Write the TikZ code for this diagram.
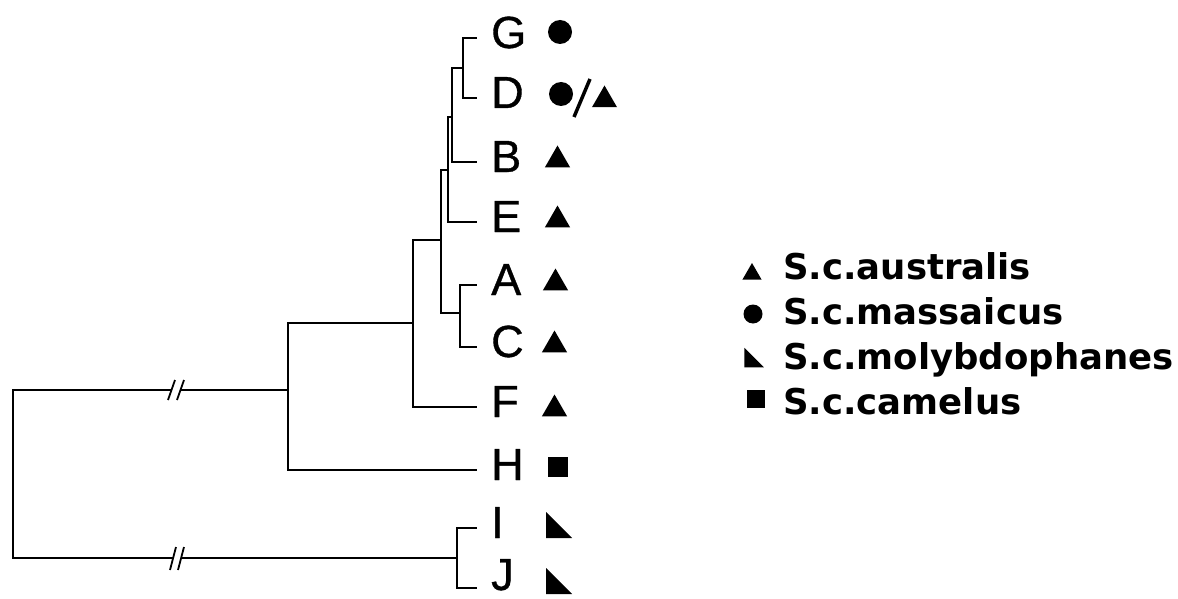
\documentclass[tikz,border=0pt]{standalone}
\usepackage{fontspec}
\setmainfont{Liberation Sans}
\newfontfamily\labfont[FakeBold=0.8]{Liberation Sans}
\newfontfamily\legfont{DejaVu Sans}
\usetikzlibrary{shapes.geometric}
\begin{document}
\begin{tikzpicture}[x=1pt,y=-1pt,
  branch/.style={line width=1.7pt},
  brk/.style={line width=1.8pt},
  leaf/.style={anchor=base west, inner sep=0pt, text depth=0pt, font=\labfont\fontsize{45}{45}\selectfont},
  tri/.style={regular polygon, regular polygon sides=3, fill=black, inner sep=0pt, minimum size=29pt},
  dot/.style={circle, fill=black, inner sep=0pt, minimum size=24pt},
  sq/.style={rectangle, fill=black, inner sep=0pt, minimum size=20pt},
  legtext/.style={anchor=base west, inner sep=0pt, font=\legfont\bfseries\fontsize{35.5}{35.5}\selectfont},
  halftri/.pic={\fill (-13,-13) -- (-13,13) -- (13,13) -- cycle;}
]
\useasboundingbox (0,0) rectangle (1178,599);

% leaf tips
\coordinate (tG) at (477,38);
\coordinate (tD) at (477,98);
\coordinate (tB) at (477,162);
\coordinate (tE) at (477,222);
\coordinate (tA) at (477,285);
\coordinate (tC) at (477,347);
\coordinate (tF) at (477,407);
\coordinate (tH) at (477,470);
\coordinate (tI) at (477,528);
\coordinate (tJ) at (477,588);

% internal nodes
\coordinate (nGD) at (463,68);
\coordinate (nGDB) at (452,117);
\coordinate (nGDBE) at (448,170);
\coordinate (nAC) at (460,313);
\coordinate (nX) at (441,240);
\coordinate (nXF) at (413,323);
\coordinate (nXH) at (288,390);
\coordinate (nIJ) at (457,558);
\coordinate (root) at (13,475);
\coordinate (b1a) at (171.5,390);
\coordinate (b1b) at (180.5,390);
\coordinate (b2a) at (173,558);
\coordinate (b2b) at (181,558);

% branches
\draw[branch] (nGD) |- (tG);
\draw[branch] (nGD) |- (tD);
\draw[branch] (nGDB) |- (nGD);
\draw[branch] (nGDB) |- (tB);
\draw[branch] (nGDBE) |- (nGDB);
\draw[branch] (nGDBE) |- (tE);
\draw[branch] (nX) |- (nGDBE);
\draw[branch] (nX) |- (nAC);
\draw[branch] (nAC) |- (tA);
\draw[branch] (nAC) |- (tC);
\draw[branch] (nXF) |- (nX);
\draw[branch] (nXF) |- (tF);
\draw[branch] (nXH) |- (nXF);
\draw[branch] (nXH) |- (tH);
\draw[branch] (nIJ) |- (tI);
\draw[branch] (nIJ) |- (tJ);
\draw[branch] (root) |- (b1a);
\draw[branch] (b1b) -- (nXH);
\draw[branch] (root) |- (b2a);
\draw[branch] (b2b) -- (nIJ);

% break marks
\draw[brk] (168,400) -- (175,380);
\draw[brk] (177,400) -- (184,380);
\draw[brk] (170,570) -- (176,547);
\draw[brk] (178,570) -- (184,547);

% leaf labels
\node[leaf] (lG) at (491,48) {G};
\node[leaf] (lD) at (491,108) {D};
\node[leaf] (lB) at (491,172) {B};
\node[leaf] (lE) at (491,232) {E};
\node[leaf] (lA) at (491,295) {A};
\node[leaf] (lC) at (491,357) {C};
\node[leaf] (lF) at (491,417) {F};
\node[leaf] (lH) at (491,480) {H};
\node[leaf] (lI) at (491,538) {I};
\node[leaf] (lJ) at (491,590) {J};

% symbols
\node[dot] (sG) at (560,32) {};
\node[dot] (sD1) at (561,94) {};
\draw[line width=3.5pt] (574,117) -- (590,79);
\node[tri] (sD2) at (604.5,100) {};
\node[tri] (sB) at (557.5,160) {};
\node[tri] (sE) at (557.5,220) {};
\node[tri] (sA) at (555.5,283) {};
\node[tri] (sC) at (554.5,345) {};
\node[tri] (sF) at (554.5,409) {};
\node[sq] (sH) at (558,467) {};
\pic at (559,525) {halftri};
\pic at (559,581) {halftri};

% legend
\node[tri, minimum size=22pt] (k1) at (752,274) {};
\node[dot, minimum size=19pt] (k2) at (753,314) {};
\pic[scale=0.75] at (754,357.5) {halftri};
\node[sq, minimum size=18pt] (k4) at (756,399) {};
\node[legtext] (t1) at (783,279) {S.c.australis};
\node[legtext] (t2) at (783,324) {S.c.massaicus};
\node[legtext] (t3) at (783,369) {S.c.molybdophanes};
\node[legtext] (t4) at (783,414) {S.c.camelus};
\end{tikzpicture}
\end{document}
